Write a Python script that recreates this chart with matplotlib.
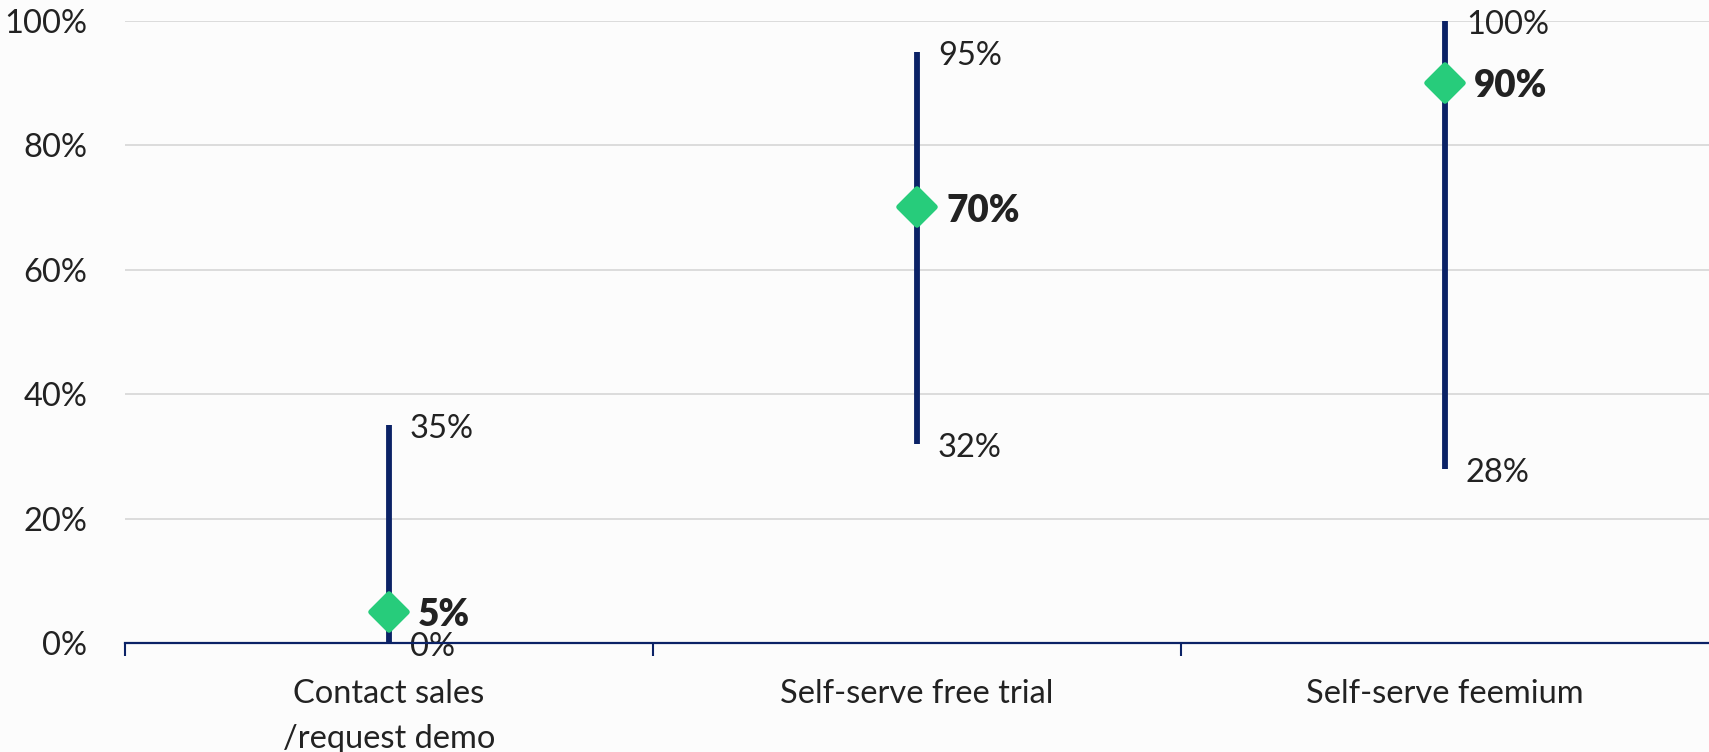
import matplotlib
matplotlib.use("Agg")
import matplotlib.pyplot as plt
from matplotlib.markers import MarkerStyle

# Conversion range per acquisition motion
categories = ["Contact sales\n/request demo", "Self-serve free trial", "Self-serve feemium"]
low = [0, 32, 28]
high = [35, 95, 100]
typical = [5, 70, 90]
y_ticks = [0, 20, 40, 60, 80, 100]

NAVY = "#0b2266"
GREEN = "#27cc7b"
TEXT = "#222222"
GRID = "#d9d9d9"
BG = "#fcfcfc"

plt.rcParams["font.family"] = ["Lato", "DejaVu Sans"]

fig = plt.figure(figsize=(17.09, 7.52), dpi=100, facecolor=BG)
ax = fig.add_axes([0.0731, 0.145, 0.9269, 0.8275], facecolor=BG)

x = list(range(len(categories)))

# range bars
ax.vlines(x, low, high, colors=NAVY, linewidth=4.2, zorder=3, capstyle="butt")

# typical value markers
marker = MarkerStyle("D", joinstyle="round")
ax.plot(x, typical, linestyle="none", marker=marker, markersize=18,
        markerfacecolor=GREEN, markeredgecolor=GREEN, markeredgewidth=4, zorder=4)

fs = 23.5
for xi, lo, hi, mid in zip(x, low, high, typical):
    ax.annotate(f"{hi}%", (xi, hi), xytext=(15, -3), textcoords="offset points",
                ha="left", va="center", fontsize=fs, color=TEXT, annotation_clip=False)
    ax.annotate(f"{lo}%", (xi, lo), xytext=(15, -3), textcoords="offset points",
                ha="left", va="center", fontsize=fs, color=TEXT, annotation_clip=False)
    ax.annotate(f"{mid}%", (xi, mid), xytext=(21, -2.5), textcoords="offset points",
                ha="left", va="center", fontsize=26.5, color=TEXT, fontweight="heavy",
                annotation_clip=False, zorder=5)

ax.set_xlim(-0.5, len(categories) - 0.5)
ax.set_ylim(0, 100)

ax.set_yticks(y_ticks)
ax.set_yticklabels([f"{v}%" for v in y_ticks], fontsize=fs, color=TEXT)
ax.tick_params(axis="y", length=0, pad=27)
ax.yaxis.grid(True, color=GRID, linewidth=1.3)
ax.set_axisbelow(True)

ax.set_xticks(x)
ax.set_xticklabels(categories, fontsize=fs, color=TEXT, linespacing=1.62)
ax.tick_params(axis="x", which="major", length=0, pad=26)
ax.set_xticks([i - 0.5 for i in x], minor=True)
ax.tick_params(axis="x", which="minor", length=9, width=1.5, color=NAVY, direction="out")

for side in ("top", "right", "left"):
    ax.spines[side].set_visible(False)
ax.spines["bottom"].set_color(NAVY)
ax.spines["bottom"].set_linewidth(1.6)
ax.spines["bottom"].set_zorder(3.5)

fig.savefig("out.png", dpi=100, facecolor=BG)
